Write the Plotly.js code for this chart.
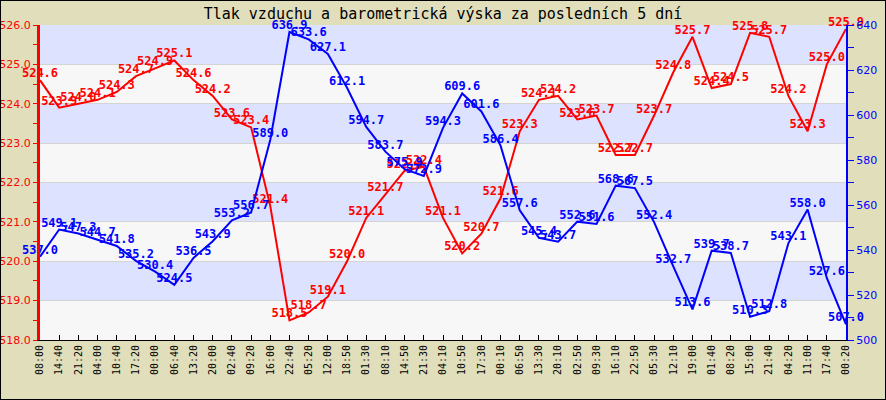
<!DOCTYPE html>
<html>
<head>
<meta charset="utf-8">
<script src="https://cdn.plot.ly/plotly-3.0.1.min.js"></script>
<style>
html,body{margin:0;padding:0;background:#E1DEBB;}
#wrap{position:relative;width:886px;height:400px;}
#chart{width:886px;height:400px;}
#frame{position:absolute;left:0;top:0;width:886px;height:400px;box-sizing:border-box;border:1px solid #000;pointer-events:none;}
</style>
</head>
<body>
<div id="wrap"><div id="chart"></div><div id="frame"></div></div>
<script>
const timeLabels = ["08:00","14:40","21:20","04:00","10:40","17:20","00:00","06:40","13:20","20:00",
  "02:40","09:20","16:00","22:40","05:20","12:00","18:50","01:30","08:10","14:50",
  "21:30","04:10","10:50","17:30","00:10","06:50","13:30","20:10","02:50","09:30",
  "16:10","22:50","05:30","12:10","19:00","01:40","08:20","15:00","21:40","04:20",
  "11:00","17:40","00:20"];

const pressure = [524.6,523.9,524.0,524.1,524.3,524.7,524.9,525.1,524.6,524.2,
  523.6,523.4,521.4,518.5,518.7,519.1,520.0,521.1,521.7,522.3,
  522.4,521.1,520.2,520.7,521.6,523.3,524.1,524.2,523.6,523.7,
  522.7,522.7,523.7,524.8,525.7,524.4,524.5,525.8,525.7,524.2,
  523.3,525.0,525.9];

const altitude = [537.0,549.1,547.3,544.7,541.8,535.2,530.4,524.5,536.5,543.9,
  553.2,556.7,589.0,636.9,633.6,627.1,612.1,594.7,583.7,575.9,
  572.9,594.3,609.6,601.6,586.4,557.6,545.4,543.7,552.6,551.6,
  568.6,567.5,552.4,532.7,513.6,539.7,538.7,510.3,512.8,543.1,
  558.0,527.6,507.0];

const titleText = "Tlak vzduchu a barometrická výska za posledních 5 dní";

const xIdx = timeLabels.map((_, i) => i);
const labelFont = {family: "DejaVu Sans Mono", size: 12, weight: "bold"};

const traces = [
  {
    x: xIdx, y: pressure, type: "scatter", mode: "lines+text",
    line: {color: "#FF0000", width: 2},
    text: pressure.map(v => v.toFixed(1)), textposition: "top center",
    textfont: Object.assign({color: "#FF0000"}, labelFont),
    cliponaxis: false, hoverinfo: "skip", yaxis: "y"
  },
  {
    x: xIdx, y: altitude, type: "scatter", mode: "lines+text",
    line: {color: "#0000FF", width: 2},
    text: altitude.map(v => v.toFixed(1)), textposition: "top center",
    textfont: Object.assign({color: "#0000FF"}, labelFont),
    cliponaxis: false, hoverinfo: "skip", yaxis: "y2"
  }
];

const bandShapes = [];
for (let b = 518; b < 526; b++) {
  bandShapes.push({
    type: "rect", xref: "paper", yref: "y", x0: 0, x1: 1, y0: b, y1: b + 1,
    fillcolor: (b % 2 === 1) ? "#DDE3FE" : "#F7F7F7", line: {width: 0}, layer: "below"
  });
}

const layout = {
  width: 886, height: 400,
  margin: {l: 40, r: 40, t: 25, b: 60},
  paper_bgcolor: "#E1DEBB",
  plot_bgcolor: "#F7F7F7",
  showlegend: false,
  title: {text: titleText, x: 0.5, xanchor: "center", y: 0.965, yanchor: "middle",
    font: {family: "DejaVu Sans Mono", size: 15, color: "#000"}},
  xaxis: {
    range: [0, timeLabels.length - 1],
    tickvals: xIdx, ticktext: timeLabels, tickangle: -90,
    ticks: "inside", ticklen: 5, tickcolor: "#000",
    showgrid: false, zeroline: false,
    showline: true, linecolor: "#000", linewidth: 1,
    tickfont: {family: "DejaVu Sans Mono", size: 10, color: "#000"}
  },
  yaxis: {
    range: [518, 526], dtick: 1, tickformat: ".1f",
    showgrid: true, gridcolor: "#D4D4D4", gridwidth: 1, zeroline: false,
    showline: true, linecolor: "#FF0000", linewidth: 3,
    ticks: "outside", ticklen: 4, tickcolor: "#FF0000",
    minor: {dtick: 0.5, ticks: "outside", ticklen: 4, tickcolor: "#FF0000", showgrid: false},
    tickfont: {family: "DejaVu Sans", size: 11, color: "#FF0000"}
  },
  yaxis2: {
    overlaying: "y", side: "right",
    range: [500, 640], dtick: 20,
    showgrid: false, zeroline: false,
    showline: true, linecolor: "#0000FF", linewidth: 2,
    ticks: "outside", ticklen: 6, tickcolor: "#0000FF",
    minor: {dtick: 10, ticks: "outside", ticklen: 6, tickcolor: "#0000FF", showgrid: false},
    tickfont: {family: "DejaVu Sans", size: 11, color: "#0000FF"}
  },
  shapes: bandShapes
};

Plotly.newPlot("chart", traces, layout, {displayModeBar: false, staticPlot: true});
</script>
</body>
</html>
